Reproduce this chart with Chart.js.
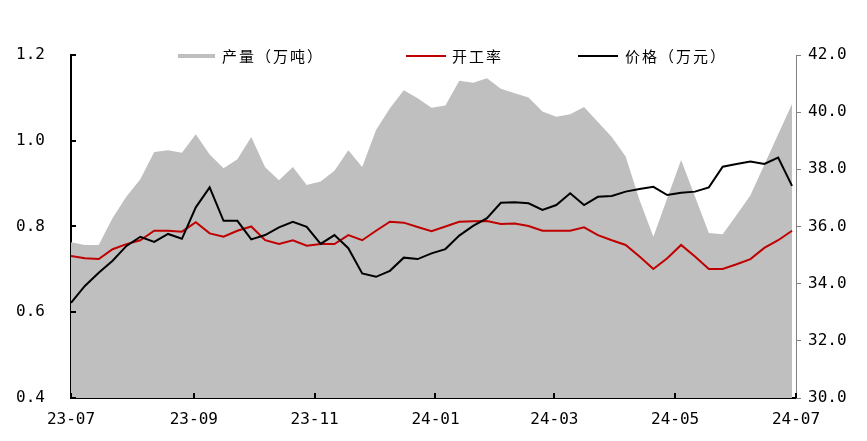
<!DOCTYPE html>
<html><head><meta charset="utf-8">
<script src="https://cdn.jsdelivr.net/npm/chart.js@4.4.1/dist/chart.umd.min.js"></script>
<style>html,body{margin:0;padding:0;background:#fff}#wrap{width:867px;height:441px}</style>
</head><body><div id="wrap"><canvas id="c" width="867" height="441"></canvas></div>
<script>
const weekDates = [
 '2023-07-01','2023-07-08','2023-07-15','2023-07-22','2023-07-29',
 '2023-08-05','2023-08-12','2023-08-19','2023-08-26',
 '2023-09-02','2023-09-09','2023-09-16','2023-09-23','2023-09-30',
 '2023-10-07','2023-10-14','2023-10-21','2023-10-28',
 '2023-11-04','2023-11-11','2023-11-18','2023-11-25',
 '2023-12-02','2023-12-09','2023-12-16','2023-12-23','2023-12-30',
 '2024-01-06','2024-01-13','2024-01-20','2024-01-27',
 '2024-02-03','2024-02-10','2024-02-17','2024-02-24',
 '2024-03-02','2024-03-09','2024-03-16','2024-03-23','2024-03-30',
 '2024-04-06','2024-04-13','2024-04-20','2024-04-27',
 '2024-05-04','2024-05-11','2024-05-18','2024-05-25',
 '2024-06-01','2024-06-08','2024-06-15','2024-06-22','2024-06-29'];
// 产量（万吨）— left axis
const outputVals = [0.763,0.757,0.757,0.82,0.87,0.91,0.974,0.978,0.972,1.015,
 0.968,0.936,0.957,1.009,0.938,0.908,0.939,0.897,0.905,0.930,
 0.978,0.939,1.025,1.076,1.118,1.099,1.077,1.082,1.140,1.135,
 1.146,1.121,1.111,1.101,1.068,1.056,1.062,1.079,1.044,1.009,
 0.963,0.862,0.776,0.866,0.955,0.870,0.785,0.782,0.827,0.873,
 0.944,1.015,1.086];
// 开工率 — left axis
const utilVals = [0.731,0.726,0.724,0.747,0.759,0.768,0.790,0.790,0.788,0.810,
 0.784,0.776,0.790,0.800,0.768,0.759,0.768,0.755,0.759,0.759,
 0.780,0.768,0.790,0.811,0.809,0.799,0.789,0.800,0.811,0.812,
 0.813,0.806,0.807,0.801,0.790,0.790,0.790,0.798,0.780,0.768,
 0.757,0.730,0.701,0.726,0.757,0.730,0.701,0.701,0.712,0.724,
 0.750,0.768,0.790];
// 价格（万元）— right axis
const priceVals = [33.33,33.92,34.38,34.80,35.32,35.64,35.46,35.74,35.57,36.67,
 37.37,36.20,36.20,35.55,35.70,35.97,36.16,35.99,35.39,35.70,
 35.24,34.36,34.24,34.45,34.91,34.86,35.06,35.21,35.68,36.02,
 36.29,36.83,36.85,36.81,36.58,36.75,37.16,36.75,37.04,37.07,
 37.22,37.31,37.39,37.10,37.18,37.22,37.37,38.09,38.19,38.27,
 38.19,38.41,37.42];
const seriesNames = ['产量（万吨）','开工率','价格（万元）'];
const xTickDates = ['2023-07-01','2023-09-01','2023-11-01','2024-01-01','2024-03-01','2024-05-01','2024-07-01'];
const xTickLabels = ['23-07','23-09','23-11','24-01','24-03','24-05','24-07'];
const leftTicks = [0.4,0.6,0.8,1.0,1.2];
const rightTicks = [30,32,34,36,38,40,42];

const origin = Date.UTC(2023,6,1);
function dayOf(s){const p=s.split('-').map(Number);return (Date.UTC(p[0],p[1]-1,p[2])-origin)/86400000;}
const xDays = weekDates.map(dayOf);
const xTickDays = xTickDates.map(dayOf);
const pts = arr => arr.map((v,i)=>({x:xDays[i],y:v}));

const inwardTicks = {
  id:'inwardTicks',
  afterDraw(chart){
    const ctx=chart.ctx, a=chart.chartArea, sx=chart.scales.x, sy=chart.scales.y;
    ctx.save(); ctx.strokeStyle='#000'; ctx.lineWidth=2; ctx.beginPath();
    leftTicks.forEach(v=>{const y=Math.round(sy.getPixelForValue(v));ctx.moveTo(a.left,y);ctx.lineTo(a.left+5,y);});
    xTickDays.forEach(v=>{const x=Math.round(sx.getPixelForValue(v));ctx.moveTo(x,a.bottom);ctx.lineTo(x,a.bottom-5);});
    ctx.stroke(); ctx.restore();
  }
};
const customLegend = {
  id:'customLegend',
  afterDraw(chart){
    const ctx=chart.ctx; const y=56;
    const items=[
      {x1:178,x2:215,tx:222,color:'#bfbfbf',w:4},
      {x1:406,x2:446,tx:452,color:'#c00000',w:2},
      {x1:578,x2:618,tx:625,color:'#000000',w:2}];
    ctx.save();
    items.forEach((it,i)=>{
      ctx.strokeStyle=it.color; ctx.lineWidth=it.w; ctx.beginPath();
      ctx.moveTo(it.x1,y); ctx.lineTo(it.x2,y); ctx.stroke();
      ctx.fillStyle='#000'; ctx.font='15px "Noto Sans CJK SC"';
      ctx.letterSpacing='2px'; ctx.textBaseline='middle'; ctx.textAlign='left';
      ctx.fillText(seriesNames[i], it.tx, y);
    });
    ctx.restore();
  }
};

new Chart(document.getElementById('c'),{
  type:'line',
  data:{datasets:[
    {label:seriesNames[1],data:pts(utilVals),yAxisID:'y',borderColor:'#c00000',borderWidth:2,pointRadius:0,fill:false,order:1},
    {label:seriesNames[2],data:pts(priceVals),yAxisID:'y1',borderColor:'#000000',borderWidth:2,pointRadius:0,fill:false,order:0},
    {label:seriesNames[0],data:pts(outputVals),yAxisID:'y',borderWidth:0,borderColor:'rgba(0,0,0,0)',backgroundColor:'#bfbfbf',pointRadius:0,fill:'start',order:5}
  ]},
  options:{
    responsive:false, animation:false, devicePixelRatio:1,
    layout:{padding:{top:55,left:0,right:0,bottom:0}},
    plugins:{legend:{display:false},tooltip:{enabled:false}},
    scales:{
      x:{type:'linear',min:xTickDays[0],max:xTickDays[xTickDays.length-1],
        afterBuildTicks(s){s.ticks=xTickDays.map(v=>({value:v}));},
        afterFit(s){s.height=43;},
        grid:{drawOnChartArea:false,drawTicks:false},
        border:{color:'#000',width:2},
        ticks:{autoSkip:false,maxRotation:0,padding:12,color:'#000',
          font:{family:'"DejaVu Sans Mono"',size:16},
          callback(v){const i=xTickDays.indexOf(v);return i>=0?xTickLabels[i]:'';}}},
      y:{position:'left',min:leftTicks[0],max:leftTicks[leftTicks.length-1],
        afterBuildTicks(s){s.ticks=leftTicks.map(v=>({value:v}));},
        afterFit(s){s.width=71;},
        grid:{drawOnChartArea:false,drawTicks:false},
        border:{color:'#000',width:2},
        ticks:{padding:26,color:'#000',font:{family:'"DejaVu Sans Mono"',size:16},
          callback(v){return Number(v).toFixed(1);}}},
      y1:{position:'right',min:rightTicks[0],max:rightTicks[rightTicks.length-1],
        afterBuildTicks(s){s.ticks=rightTicks.map(v=>({value:v}));},
        afterFit(s){s.width=71;},
        grid:{drawOnChartArea:false,drawTicks:true,tickLength:5,color:'#808080',lineWidth:1},
        border:{color:'#808080',width:1},
        ticks:{padding:7,color:'#000',font:{family:'"DejaVu Sans Mono"',size:16},
          callback(v){return Number(v).toFixed(1);}}}
    }
  },
  plugins:[inwardTicks,customLegend]
});
</script></body></html>
